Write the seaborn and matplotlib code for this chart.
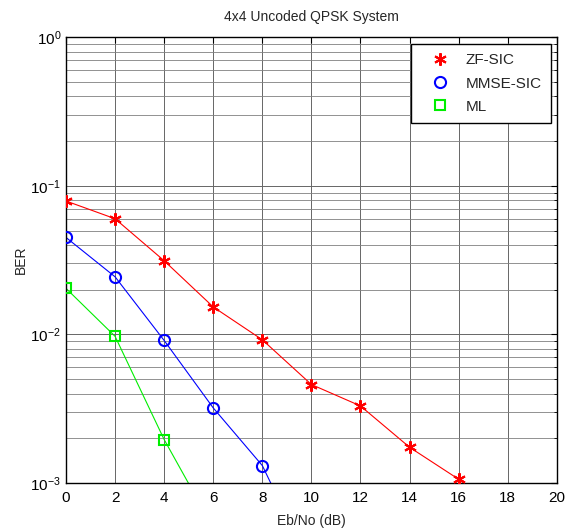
import numpy as np
import pandas as pd
import matplotlib
matplotlib.use("Agg")
import matplotlib.pyplot as plt
from matplotlib.lines import Line2D
import matplotlib.ticker as mticker
import seaborn as sns

# values (last point of each series lies below the axis)
ebno_zf = [0, 2, 4, 6, 8, 10, 12, 14, 16, 18]
ber_zf = [0.079, 0.060, 0.0313, 0.0153, 0.0092, 0.0046, 0.0033, 0.00174, 0.00106, 0.00059]
ebno_mmse = [0, 2, 4, 6, 8, 10]
ber_mmse = [0.0449, 0.0244, 0.0091, 0.0032, 0.00131, 0.00027]
ebno_ml = [0, 2, 4, 6]
ber_ml = [0.0204, 0.0097, 0.00196, 0.0005]

labels = ["ZF-SIC", "MMSE-SIC", "ML"]
colors = ["#ff0000", "#0000ff", "#00ee00"]

sns.set_style("white")
plt.rcParams['font.family'] = ['Liberation Sans', 'DejaVu Sans']
plt.rcParams['mathtext.fontset'] = 'custom'
plt.rcParams['mathtext.rm'] = 'Liberation Sans'
plt.rcParams['xtick.direction'] = 'in'
plt.rcParams['ytick.direction'] = 'in'

fig = plt.figure(figsize=(5.74, 5.31), dpi=100)
ax = fig.add_axes([0.115, 0.0904, 0.855, 0.8396])

df = pd.concat([
    pd.DataFrame({"x": ebno_zf, "y": ber_zf, "s": labels[0]}),
    pd.DataFrame({"x": ebno_mmse, "y": ber_mmse, "s": labels[1]}),
    pd.DataFrame({"x": ebno_ml, "y": ber_ml, "s": labels[2]}),
])

markers = [(6, 2, 0), "o", "s"]
msizes = [9, 8, 7]
for lab, col, mk, ms in zip(labels, colors, markers, msizes):
    sub = df[df["s"] == lab]
    sns.lineplot(data=sub, x="x", y="y", color=col, lw=0.8, ax=ax, legend=False)
    ax.plot(sub["x"], sub["y"], linestyle="none", marker=mk, ms=ms,
            mfc="none", mec=col, mew=1.5, zorder=4)

ax.set_yscale("log")
ax.set_xlim(0, 20)
ax.set_ylim(1e-3, 1)
ax.set_xticks(np.arange(0, 21, 2))
ax.yaxis.set_major_locator(mticker.LogLocator(base=10, numticks=10))
ax.yaxis.set_minor_locator(mticker.LogLocator(base=10, subs=np.arange(2, 10), numticks=20))
ax.yaxis.set_minor_formatter(mticker.NullFormatter())

ax.grid(True, which="major", color="0.4", lw=0.7, ls="-")
ax.grid(True, which="minor", axis="y", color="0.5", lw=0.6, ls="-")
ax.set_axisbelow(True)
for sp in ax.spines.values():
    sp.set_color("black")
    sp.set_linewidth(1.0)
ax.tick_params(which="both", top=True, right=True, labelsize=11, colors="black", length=4)
ax.tick_params(axis="x", pad=6)
ax.tick_params(which="minor", length=2)

ax.set_title("4x4 Uncoded QPSK System", fontsize=10, pad=12)
ax.set_xlabel("Eb/No (dB)", fontsize=10, labelpad=6)
ax.set_ylabel("BER", fontsize=10, labelpad=2)

handles = [Line2D([], [], linestyle="none", marker=mk, ms=ms, mfc="none", mec=col, mew=1.5)
           for col, mk, ms in zip(colors, markers, msizes)]
leg = ax.legend(handles, labels, loc="upper right", bbox_to_anchor=(0.988, 0.984),
                fontsize=11, frameon=True, fancybox=False, framealpha=1,
                edgecolor="black", borderpad=0.6, labelspacing=0.6, handletextpad=0.4,
                handlelength=2.6, borderaxespad=0.0)
leg.get_frame().set_linewidth(1.0)

fig.savefig("out.png", dpi=100)
